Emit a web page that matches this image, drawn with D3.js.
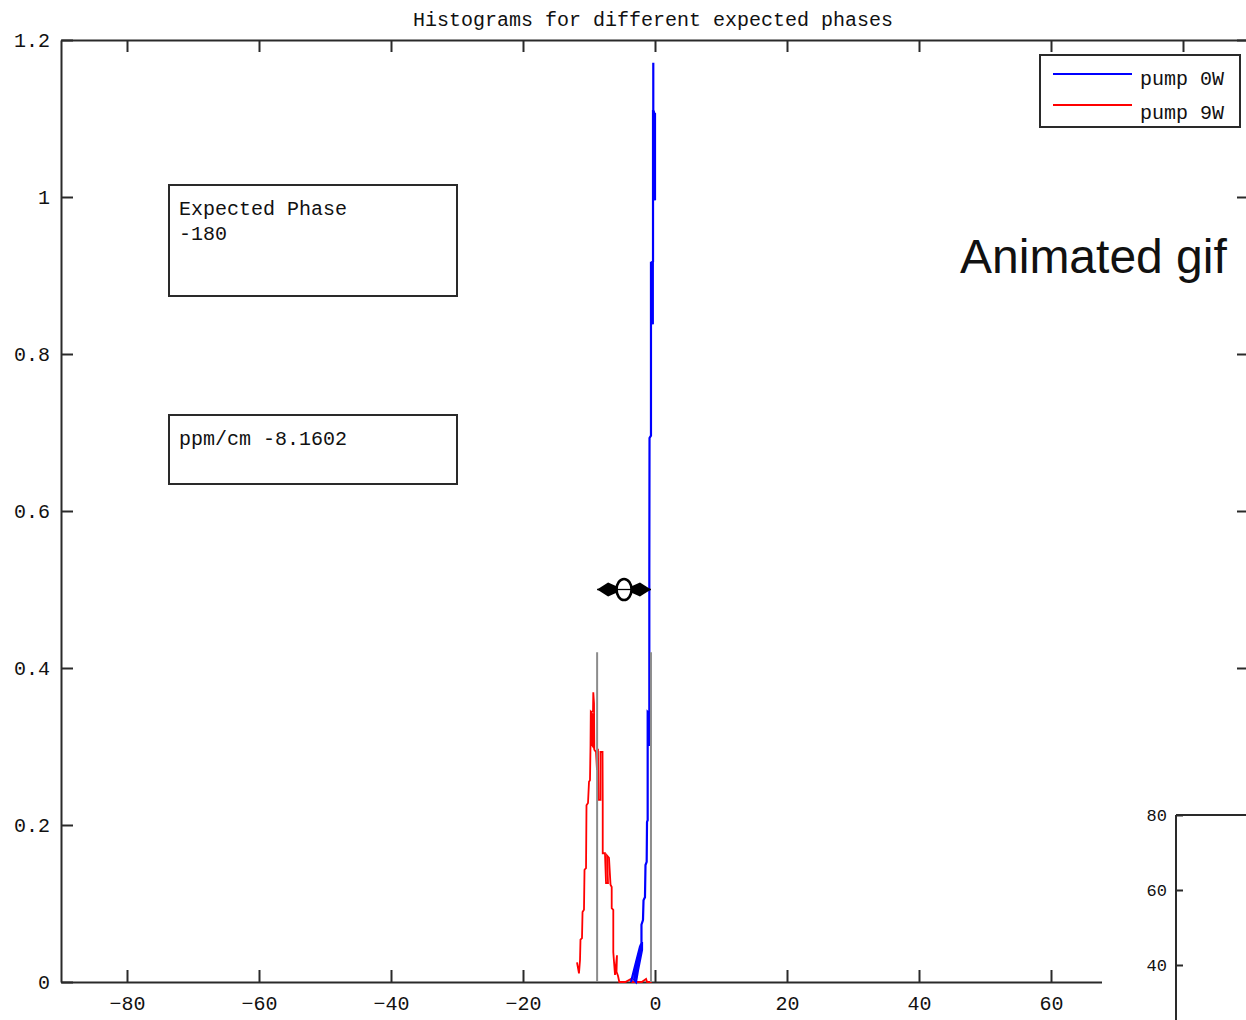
<!DOCTYPE html>
<html>
<head>
<meta charset="utf-8">
<script src="https://cdn.jsdelivr.net/npm/d3@7"></script>
<style>
  html, body { margin: 0; padding: 0; background: #fff; }
  svg { display: block; }
  text { font-family: "Liberation Mono", "DejaVu Sans Mono", monospace; fill: #111; }
</style>
</head>
<body>
<svg id="chart" width="1246" height="1020"></svg>
<script>
// ---- data ----
const xTicks = [-80, -60, -40, -20, 0, 20, 40, 60, 80];
const yTicks = [0, 0.2, 0.4, 0.6, 0.8, 1, 1.2];
const insetTicks = [40, 60, 80];
const seriesNames = ["pump 0W", "pump 9W"];
const titleText = "Histograms for different expected phases";
const expectedPhase = -180;
const ppmPerCm = -8.1602;

// pump 0W histogram (phase, normalised count)
const blueX = [-3.64, -2.88, -2.27, -1.97, -1.97, -2.58, -2.88, -3.18, -2.58, -2.05,
               -2.05, -1.82, -1.74, -1.52, -1.44, -1.26, -1.21, -1.11, -1.11, -0.76,
               -0.76, -0.91, -0.91, -0.86, -0.86, -0.83, -0.61, -0.61, -0.33, -0.33,
               -0.45, -0.45, -0.30, -0.30, 0.00, 0.00, -0.15, -0.15, -0.26, -0.26];
const blueY = [0, 0.025, 0.045, 0.051, 0.041, 0.015, 0, 0.003, 0.025, 0.046,
               0.073, 0.079, 0.104, 0.108, 0.149, 0.153, 0.204, 0.206, 0.344, 0.341,
               0.302, 0.302, 0.344, 0.344, 0.525, 0.693, 0.696, 0.916, 0.916, 0.838,
               0.841, 0.917, 0.918, 1.108, 1.106, 0.996, 0.999, 1.108, 1.111, 1.171];

// pump 9W histogram (phase, normalised count)
const redX = [-11.82, -11.67, -11.52, -11.36, -11.29, -11.06, -10.98, -10.76, -10.68, -10.45,
              -10.38, -10.15, -10.00, -9.85, -9.77, -9.73, -9.47, -9.47, -9.62, -9.59,
              -9.39, -9.35, -9.24, -9.20, -8.94, -8.79, -8.64, -8.56, -8.26, -8.26,
              -7.95, -7.92, -7.92, -7.58, -7.42, -7.12, -7.27, -6.97, -6.74, -6.56,
              -6.56, -6.32, -6.32, -6.06, -5.76, -5.83, -5.61, -5.41, -4.50, -3.60,
              -3.45, -2.00, -1.35, -1.20, -0.50];
const redY = [0.025, 0.018, 0.011, 0.028, 0.054, 0.056, 0.089, 0.092, 0.143, 0.145,
              0.225, 0.228, 0.255, 0.257, 0.302, 0.344, 0.341, 0.301, 0.303, 0.344,
              0.346, 0.369, 0.355, 0.296, 0.293, 0.270, 0.297, 0.232, 0.232, 0.293,
              0.293, 0.229, 0.164, 0.164, 0.126, 0.126, 0.161, 0.158, 0.124, 0.121,
              0.094, 0.092, 0.038, 0.009, 0.034, 0.013, 0.008, 0, 0, 0.004,
              0, 0, 0.004, 0, 0];

// mean phase of each distribution and the level of the shift arrow
const blueMean = -0.61;
const redMean = blueMean + ppmPerCm;
const meanMarkerHeight = 0.42;
const arrowLevel = 0.5;

// ---- layout ----
const svg = d3.select("#chart");
const plot = { left: 61, top: 40, right: 1249, bottom: 982 };
const axisColor = "#2a2a2a";

const x = d3.scaleLinear().domain([-90, 90]).range([plot.left, plot.right]);
const y = d3.scaleLinear().domain([0, 1.2]).range([plot.bottom, plot.top]);

// title
svg.append("text")
  .attr("x", (plot.left + plot.right) / 2 - 2)
  .attr("y", 26)
  .attr("text-anchor", "middle")
  .style("font-size", "20px")
  .text(titleText);

// axes (ticks point inward)
function styleAxis(g) {
  g.selectAll("path.domain").attr("stroke", axisColor).attr("stroke-width", 2);
  g.selectAll(".tick line").attr("stroke", axisColor).attr("stroke-width", 2);
  g.selectAll(".tick text").style("font-size", "20px")
    .style("font-family", "'Liberation Mono','DejaVu Sans Mono',monospace").attr("fill", "#111");
}
const fmtY = d => d3.format("~g")(d);

svg.append("g").attr("transform", `translate(0,${plot.bottom})`)
  .call(d3.axisBottom(x).tickValues(xTicks).tickSizeInner(-12).tickSizeOuter(0).tickPadding(14))
  .call(styleAxis);
svg.append("g").attr("transform", `translate(0,${plot.top})`)
  .call(d3.axisTop(x).tickValues(xTicks).tickSizeInner(-12).tickSizeOuter(0).tickFormat(""))
  .call(styleAxis);
svg.append("g").attr("transform", `translate(${plot.left},0)`)
  .call(d3.axisLeft(y).tickValues(yTicks).tickSizeInner(-12).tickSizeOuter(0).tickPadding(11).tickFormat(fmtY))
  .call(styleAxis);
svg.append("g").attr("transform", `translate(${plot.right},0)`)
  .call(d3.axisRight(y).tickValues(yTicks).tickSizeInner(-12).tickSizeOuter(0).tickFormat(""))
  .call(styleAxis);

// histograms
const line = d3.line().x(d => x(d[0])).y(d => y(d[1]));
const redPts = d3.zip(redX, redY);
const bluePts = d3.zip(blueX, blueY);

svg.append("path").datum(redPts).attr("d", line)
  .attr("fill", "none").attr("stroke", "#ff0000").attr("stroke-width", 1.8)
  .attr("stroke-linejoin", "miter");
svg.append("path").datum(bluePts).attr("d", line)
  .attr("fill", "none").attr("stroke", "#0000ff").attr("stroke-width", 2.2)
  .attr("stroke-linejoin", "miter");

// mean markers
svg.selectAll("line.mean").data([redMean, blueMean]).enter().append("line")
  .attr("class", "mean")
  .attr("x1", d => x(d)).attr("x2", d => x(d))
  .attr("y1", y(0)).attr("y2", y(meanMarkerHeight))
  .attr("stroke", "#8c8c8c").attr("stroke-width", 2);

// double arrow showing the shift between the means
const ax1 = x(redMean), ax2 = x(blueMean), ay = y(arrowLevel);
const amid = (ax1 + ax2) / 2;
const arrow = svg.append("g");
arrow.append("line").attr("x1", ax1).attr("x2", ax2).attr("y1", ay).attr("y2", ay)
  .attr("stroke", "#000").attr("stroke-width", 1.5);
arrow.append("path")
  .attr("d", `M${ax1},${ay} L${ax1 + 11},${ay - 7} L${amid - 7},${ay - 3} L${amid - 7},${ay + 3} L${ax1 + 11},${ay + 7} Z`)
  .attr("fill", "#000");
arrow.append("path")
  .attr("d", `M${ax2},${ay} L${ax2 - 11},${ay - 7} L${amid + 7},${ay - 3} L${amid + 7},${ay + 3} L${ax2 - 11},${ay + 7} Z`)
  .attr("fill", "#000");
arrow.append("ellipse").attr("cx", amid).attr("cy", ay).attr("rx", 7.5).attr("ry", 10.5)
  .attr("fill", "#fff").attr("stroke", "#000").attr("stroke-width", 2.6);
arrow.append("line").attr("x1", amid - 8).attr("x2", amid + 8).attr("y1", ay).attr("y2", ay)
  .attr("stroke", "#000").attr("stroke-width", 1.3);

// annotation boxes
function textBox(bx, by, bw, bh, lines) {
  const g = svg.append("g");
  g.append("rect").attr("x", bx).attr("y", by).attr("width", bw).attr("height", bh)
    .attr("fill", "#fff").attr("stroke", axisColor).attr("stroke-width", 2);
  lines.forEach((t, i) => {
    g.append("text").attr("x", bx + 10).attr("y", by + 30 + i * 25)
      .style("font-size", "20px").text(t);
  });
}
textBox(169, 185, 288, 111, ["Expected Phase", String(expectedPhase)]);
textBox(169, 415, 288, 69, ["ppm/cm " + ppmPerCm]);

// legend
const legend = svg.append("g");
legend.append("rect").attr("x", 1040).attr("y", 55).attr("width", 200).attr("height", 72)
  .attr("fill", "#fff").attr("stroke", axisColor).attr("stroke-width", 2);
const legendColors = ["#0000ff", "#ff0000"];
seriesNames.forEach((name, i) => {
  const ly = 74 + i * 31;
  legend.append("line").attr("x1", 1053).attr("x2", 1132).attr("y1", ly).attr("y2", ly)
    .attr("stroke", legendColors[i]).attr("stroke-width", 2);
  legend.append("text").attr("x", 1140).attr("y", ly + 11 + i * 3)
    .style("font-size", "20px").text(name);
});

// "Animated gif" caption
svg.append("text").attr("x", 960).attr("y", 273)
  .style("font-family", "'Liberation Sans', Arial, sans-serif")
  .style("font-size", "48px").attr("fill", "#000")
  .text("Animated gif");

// inset panel in the lower-right corner
const inset = { left: 1176, top: 815 };
svg.append("rect").attr("x", 1102).attr("y", 796).attr("width", 144).attr("height", 224)
  .attr("fill", "#fff");
const yi = d3.scaleLinear().domain([0, 80]).range([1115, inset.top]);
const insetAxis = svg.append("g").attr("transform", `translate(${inset.left},0)`)
  .call(d3.axisLeft(yi).tickValues(insetTicks).tickSizeInner(-7).tickSizeOuter(0).tickPadding(9));
insetAxis.select("path.domain").remove();
insetAxis.selectAll(".tick line").attr("stroke", axisColor).attr("stroke-width", 2);
insetAxis.selectAll(".tick text").style("font-size", "17px")
  .style("font-family", "'Liberation Mono','DejaVu Sans Mono',monospace").attr("fill", "#111");
svg.append("line").attr("x1", inset.left).attr("x2", inset.left)
  .attr("y1", inset.top).attr("y2", 1020).attr("stroke", axisColor).attr("stroke-width", 2);
svg.append("line").attr("x1", inset.left).attr("x2", 1246)
  .attr("y1", inset.top).attr("y2", inset.top).attr("stroke", axisColor).attr("stroke-width", 2);
</script>
</body>
</html>
